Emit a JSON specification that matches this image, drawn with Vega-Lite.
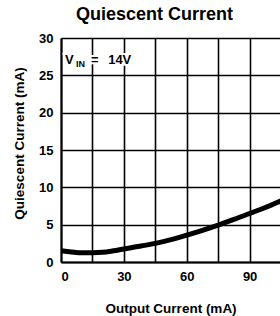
{
  "$schema": "https://vega.github.io/schema/vega-lite/v6.json",
  "autosize": {"type": "none"},
  "padding": {"left": 61, "top": 38, "right": 0, "bottom": 54},
  "width": 219,
  "height": 224,
  "background": "white",
  "view": {"stroke": null},
  "config": {
    "font": "Liberation Sans",
    "axis": {
      "grid": true, "gridColor": "black", "gridWidth": 1.6, "gridOpacity": 1,
      "domainColor": "black", "domainWidth": 2, "ticks": false, "labelOverlap": false,
      "labelFont": "Liberation Sans", "labelFontWeight": "bold", "labelFontSize": 13, "labelColor": "black",
      "titleFont": "Liberation Sans", "titleFontWeight": "bold", "titleFontSize": 13.5, "titleColor": "black"
    }
  },
  "title": {
    "text": "Quiescent Current", "fontSize": 18, "fontWeight": "bold", "color": "black",
    "anchor": "middle", "dx": -16, "offset": 8
  },
  "datasets": {
    "curve": [
      {"out": 0, "q": 1.5}, {"out": 5, "q": 1.35}, {"out": 10, "q": 1.25}, {"out": 15, "q": 1.25},
      {"out": 20, "q": 1.3}, {"out": 25, "q": 1.5}, {"out": 30, "q": 1.75}, {"out": 37.5, "q": 2.1},
      {"out": 45, "q": 2.5}, {"out": 52.5, "q": 3.0}, {"out": 60, "q": 3.6}, {"out": 67.5, "q": 4.25},
      {"out": 75, "q": 4.95}, {"out": 82.5, "q": 5.7}, {"out": 90, "q": 6.5}, {"out": 97.5, "q": 7.3},
      {"out": 105, "q": 8.2}
    ],
    "labels": [
      {"out": 1.9, "q": 27.0, "t": "V"},
      {"out": 7.2, "q": 26.5, "t": "IN"},
      {"out": 14.3, "q": 27.0, "t": "="},
      {"out": 22.5, "q": 27.0, "t": "14V"}
    ]
  },
  "encoding": {
    "x": {"field": "out", "type": "quantitative", "scale": {"domain": [0, 104.5], "nice": false},
          "axis": {"values": [0, 15, 30, 45, 60, 75, 90], "labelExpr": "datum.value % 30 == 0 ? datum.label : ''",
                   "title": "Output Current (mA)", "labelPadding": 8, "titlePadding": 18}},
    "y": {"field": "q", "type": "quantitative", "scale": {"domain": [0, 30], "nice": false},
          "axis": {"values": [0, 5, 10, 15, 20, 25, 30], "title": "Quiescent Current (mA)", "labelPadding": 8, "titlePadding": 12, "titleY": 105}}
  },
  "layer": [
    {
      "data": {"name": "curve"},
      "mark": {"type": "line", "color": "black", "strokeWidth": 5, "interpolate": "monotone", "clip": true}
    },
    {
      "data": {"name": "labels"},
      "mark": {"type": "text", "align": "left", "baseline": "middle", "fontWeight": "bold", "stroke": "white", "strokeWidth": 4, "color": "white", "fontSize": 13},
      "encoding": {
        "text": {"field": "t"},
        "size": {"condition": {"test": "datum.t == 'IN'", "value": 9}, "value": 13}
      }
    },
    {
      "data": {"name": "labels"},
      "mark": {"type": "text", "align": "left", "baseline": "middle", "fontWeight": "bold", "color": "black", "fontSize": 13},
      "encoding": {
        "text": {"field": "t"},
        "size": {"condition": {"test": "datum.t == 'IN'", "value": 9}, "value": 13}
      }
    }
  ]
}
